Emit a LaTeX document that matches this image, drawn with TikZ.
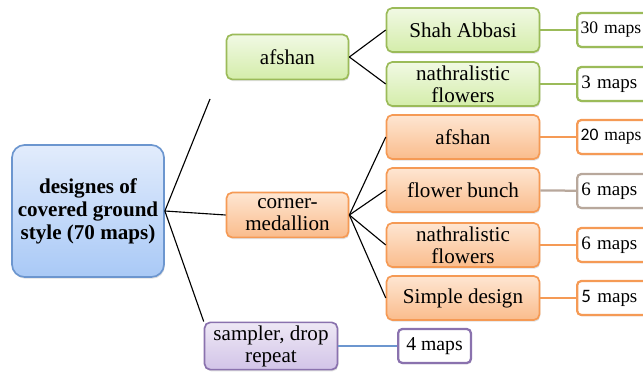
\documentclass[tikz,border=0pt]{standalone}
\usepackage{fontspec}
\setmainfont{Liberation Serif}
\newfontfamily\numfont{Carlito}
\usetikzlibrary{shadows}
\definecolor{bluebd}{HTML}{6C96CF}
\definecolor{bluetop}{HTML}{E2ECFC}
\definecolor{bluebot}{HTML}{A9C9F6}
\definecolor{greenbd}{HTML}{9BBB59}
\definecolor{greentop}{HTML}{F1F9E4}
\definecolor{greenbot}{HTML}{D4EDAA}
\definecolor{orangebd}{HTML}{F59A55}
\definecolor{orangetop}{HTML}{FEE6D2}
\definecolor{orangebot}{HTML}{FABC8C}
\definecolor{purplebd}{HTML}{8A72AE}
\definecolor{purpletop}{HTML}{EEE8F5}
\definecolor{purplebot}{HTML}{D2C4E8}
\definecolor{tanln}{HTML}{B8A89C}
\definecolor{blueln}{HTML}{6C96CF}

\tikzset{
	box/.style={draw, line width=1.2pt, rounded corners=4pt, align=center,
		font=\fontsize{15}{15.6}\selectfont, inner sep=1pt,
		drop shadow={opacity=0.25, shadow xshift=0.6pt, shadow yshift=-1.2pt}},
	rootbox/.style={box, draw=bluebd, top color=bluetop, bottom color=bluebot,
		minimum width=3.8cm, minimum height=3.3cm, rounded corners=9pt,
		font=\fontsize{15}{16.4}\selectfont\bfseries},
	gbox/.style={box, draw=greenbd, top color=greentop, bottom color=greenbot},
	obox/.style={box, draw=orangebd, top color=orangetop, bottom color=orangebot},
	pbox/.style={box, draw=purplebd, top color=purpletop, bottom color=purplebot},
	midbox/.style={minimum width=3.05cm, minimum height=1.12cm},
	leafbox/.style={minimum width=3.82cm, minimum height=1.1cm},
	mapbox/.style={draw, fill=white, line width=1.6pt, rounded corners=3pt,
		anchor=west, minimum height=0.85cm, inner ysep=1pt,
		font=\fontsize{14}{15}\selectfont,
		drop shadow={opacity=0.2, shadow xshift=0.6pt, shadow yshift=-1pt}},
	countbox/.style={mapbox, text width=2.2cm, align=left, inner xsep=3pt,
		font=\fontsize{13.5}{15}\selectfont},
	widecount/.style={countbox, inner xsep=2.5pt, font=\fontsize{12.5}{15}\selectfont},
	link/.style={line width=0.8pt},
}

\begin{document}
\begin{tikzpicture}[x=0.025cm, y=-0.025cm]
	\useasboundingbox (0,0) rectangle (643,372);
	\clip (0,0) rectangle (643,372);
	% main node
	\node[rootbox] (root) at (88,211) {designes of\\covered ground\\style (70 maps)};
	% second level
	\node[gbox, midbox] (afshan) at (287.5,57) {afshan};
	\node[obox, midbox] (corner) at (287.5,215) {corner-\\medallion};
	\node[pbox, minimum width=3.32cm, minimum height=1.18cm] (sampler) at (271,346) {sampler, drop\\repeat};
	% third level
	\node[gbox, leafbox] (shah) at (463,30) {Shah Abbasi};
	\node[gbox, leafbox] (gflow) at (463,84) {nathralistic\\flowers};
	\node[obox, leafbox] (oafshan) at (463,137) {afshan};
	\node[obox, leafbox] (bunch) at (463,190) {flower bunch};
	\node[obox, leafbox] (oflow) at (463,245) {nathralistic\\flowers};
	\node[obox, leafbox] (simple) at (463,298) {Simple design};
	% counts
	\node[widecount, draw=greenbd] (m30) at (576,30) {30 maps};
	\node[countbox, draw=greenbd] (m3) at (576,84) {3 maps};
	\node[widecount, draw=orangebd] (m20) at (576,137) {{\numfont 20} maps};
	\node[countbox, draw=tanln] (m6a) at (576,191) {6 maps};
	\node[countbox, draw=orangebd] (m6b) at (576,245) {6 maps};
	\node[countbox, draw=orangebd] (m5) at (576,298) {{\numfont 5} maps};
	\node[mapbox, draw=purplebd, minimum width=1.82cm] (m4) at (397,346) {4 maps};
	% connectors
	\coordinate (rootup) at (210,99);
	\draw[link] (root.east) -- (rootup);
	\draw[link] (root.east) -- (corner.west);
	\draw[link] (root.east) -- (sampler.north west);
	\foreach \t in {shah,gflow}
		\draw[link] (afshan.east) -- (\t.west);
	\foreach \t in {oafshan,bunch,oflow,simple}
		\draw[link] (corner.east) -- (\t.west);
	\draw[greenbd, line width=1.6pt] (shah) -- (m30);
	\draw[greenbd, line width=1.6pt] (gflow) -- (m3);
	\draw[orangebd, line width=1.6pt] (oafshan) -- (m20);
	\draw[tanln, line width=1.6pt] (bunch) -- (m6a);
	\draw[orangebd, line width=1.6pt] (oflow) -- (m6b);
	\draw[orangebd, line width=1.6pt] (simple) -- (m5);
	\draw[blueln, line width=0.8pt] (sampler) -- (m4);
\end{tikzpicture}
\end{document}
